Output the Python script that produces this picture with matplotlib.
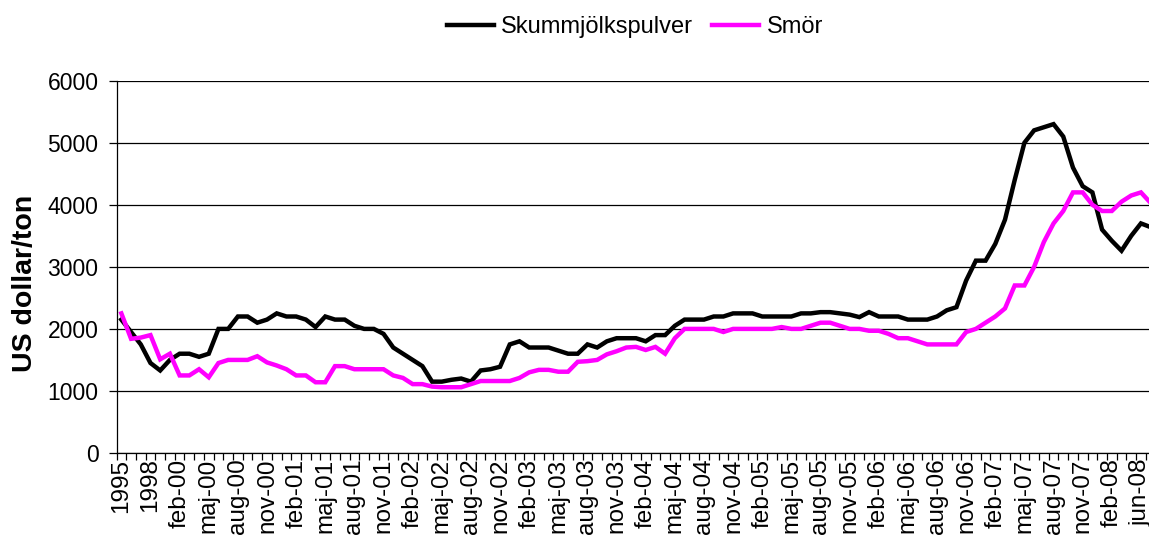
import matplotlib
matplotlib.use("Agg")
import matplotlib.pyplot as plt
from matplotlib.ticker import FixedLocator

plt.rcParams['font.family'] = ['Liberation Sans', 'DejaVu Sans']

# kategorier: år 1995-1999, sedan månader (maj-08 saknas i källan)
ar = ["1995", "1996", "1997", "1998", "1999"]
manader = ["jan", "feb", "mar", "apr", "maj", "jun", "jul", "aug", "sep", "okt", "nov", "dec"]
kategorier = list(ar)
for yy in range(0, 8):
    for m in manader:
        kategorier.append(f"{m}-{yy:02d}")
kategorier += ["jan-08", "feb-08", "mar-08", "apr-08", "jun-08", "jul-08"]

skummjolk = [2150, 1950, 1750, 1450, 1330, 1500, 1600, 1600, 1550, 1600,
             2000, 2000, 2200, 2200, 2100, 2150, 2250, 2200, 2200, 2150,
             2030, 2200, 2150, 2150, 2050, 2000, 2000, 1920, 1700, 1600,
             1500, 1400, 1150, 1150, 1180, 1200, 1150, 1330, 1350, 1390,
             1750, 1800, 1700, 1700, 1700, 1650, 1600, 1600, 1750, 1700,
             1800, 1850, 1850, 1850, 1800, 1900, 1900, 2050, 2150, 2150,
             2150, 2200, 2200, 2250, 2250, 2250, 2200, 2200, 2200, 2200,
             2250, 2250, 2270, 2270, 2250, 2230, 2190, 2270, 2200, 2200,
             2200, 2150, 2150, 2150, 2200, 2300, 2350, 2780, 3100, 3100,
             3370, 3760, 4400, 5000, 5200, 5250, 5300, 5100, 4600, 4300,
             4200, 3600, 3420, 3260, 3500, 3700, 3640]

smor = [2250, 1840, 1860, 1900, 1510, 1600, 1250, 1250, 1350, 1220,
        1450, 1500, 1500, 1500, 1560, 1460, 1410, 1350, 1250, 1250,
        1140, 1140, 1400, 1400, 1350, 1350, 1350, 1350, 1250, 1210,
        1110, 1110, 1070, 1060, 1060, 1060, 1110, 1160, 1160, 1160,
        1160, 1210, 1300, 1340, 1340, 1310, 1310, 1470, 1480, 1500,
        1590, 1640, 1700, 1710, 1660, 1710, 1600, 1850, 2000, 2000,
        2000, 2000, 1950, 2000, 2000, 2000, 2000, 2000, 2030, 2000,
        2000, 2050, 2100, 2100, 2050, 2000, 2000, 1970, 1970, 1920,
        1850, 1850, 1800, 1750, 1750, 1750, 1750, 1950, 2000, 2100,
        2200, 2330, 2700, 2700, 3000, 3400, 3700, 3900, 4200, 4200,
        4000, 3900, 3900, 4050, 4150, 4200, 4030]

x = list(range(len(kategorier)))

fig = plt.figure(figsize=(11.49, 5.38), dpi=100)
ax = fig.add_axes([116.5 / 1149, 85 / 538, 1 - 116.5 / 1149, 372.3 / 538])

ax.plot(x, skummjolk, color='black', lw=3.2, label='Skummjölkspulver', solid_joinstyle='miter')
ax.plot(x, smor, color='#FF00FF', lw=3.2, label='Smör', solid_joinstyle='miter')

ax.set_ylim(0, 6000)
ax.set_xlim(-0.5, 105.83)
ax.set_yticks(range(0, 6001, 1000))
ax.grid(axis='y', color='black', lw=0.9)
ax.set_axisbelow(True)

ax.set_xticks(x[::3])
ax.set_xticklabels(kategorier[::3], rotation=90, fontsize=17.5)
ax.tick_params(axis='x', length=0, pad=4)
ax.xaxis.set_minor_locator(FixedLocator([i - 0.5 for i in range(len(kategorier) + 1)]))
ax.tick_params(axis='x', which='minor', length=5, width=0.9, direction='out', color='black')
ax.tick_params(axis='y', labelsize=16.5, length=6, width=0.9, pad=7)

for s in ['top', 'right']:
    ax.spines[s].set_visible(False)
for s in ['left', 'bottom']:
    ax.spines[s].set_linewidth(0.9)
    ax.spines[s].set_color('black')

fig.text(25 / 1149, 255 / 538, 'US dollar/ton', rotation=90, fontsize=20.5,
         fontweight='bold', ha='center', va='center')

fig.legend(loc='center', bbox_to_anchor=(635 / 1149, 1 - 27 / 538), ncol=2,
           frameon=False, fontsize=17, handlelength=2.0, handletextpad=0.3,
           columnspacing=0.8)

fig.savefig('out.png', dpi=100)
